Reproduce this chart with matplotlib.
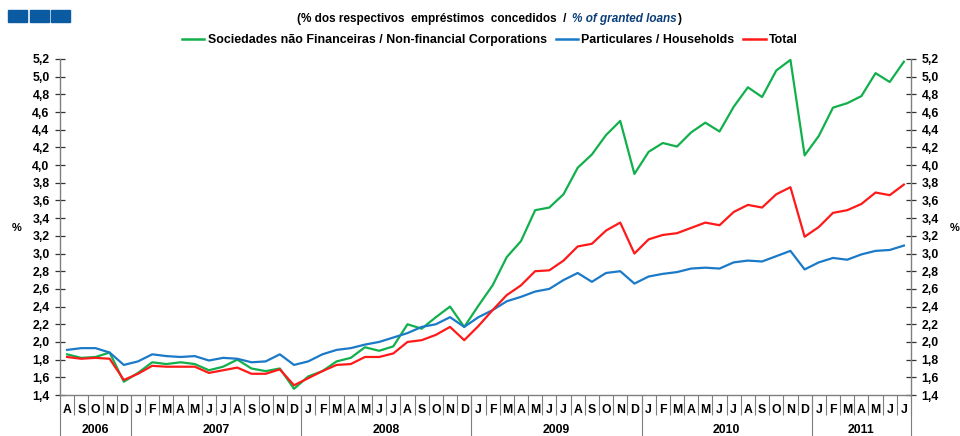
import matplotlib
matplotlib.use("Agg")
import matplotlib.pyplot as plt
import matplotlib.transforms as mtransforms
from matplotlib.patches import Rectangle
from matplotlib.lines import Line2D
from matplotlib import font_manager
import numpy as np

# ---------------- data ----------------
month_labels = (["A", "S", "O", "N", "D"] +
                ["J", "F", "M", "A", "M", "J", "J", "A", "S", "O", "N", "D"] * 4 +
                ["J", "F", "M", "A", "M", "J", "J"])
years = ["2006", "2007", "2008", "2009", "2010", "2011"]
year_counts = [5, 12, 12, 12, 12, 7]

nfc = [1.86, 1.82, 1.83, 1.88, 1.55,
       1.65, 1.77, 1.75, 1.77, 1.75, 1.68, 1.72, 1.80, 1.70, 1.67, 1.70, 1.47,
       1.61, 1.67, 1.78, 1.82, 1.94, 1.90, 1.95, 2.20, 2.15, 2.28, 2.40, 2.17,
       2.41, 2.64, 2.96, 3.14, 3.49, 3.52, 3.67, 3.97, 4.12, 4.34, 4.50, 3.90,
       4.15, 4.25, 4.21, 4.37, 4.48, 4.38, 4.66, 4.88, 4.77, 5.07, 5.19, 4.11,
       4.33, 4.65, 4.70, 4.78, 5.04, 4.94, 5.17]
households = [1.91, 1.93, 1.93, 1.88, 1.74,
              1.78, 1.86, 1.84, 1.83, 1.84, 1.79, 1.82, 1.81, 1.77, 1.78, 1.86, 1.74,
              1.78, 1.86, 1.91, 1.93, 1.97, 2.00, 2.05, 2.10, 2.17, 2.20, 2.28, 2.17,
              2.28, 2.36, 2.46, 2.51, 2.57, 2.60, 2.70, 2.78, 2.68, 2.78, 2.80, 2.66,
              2.74, 2.77, 2.79, 2.83, 2.84, 2.83, 2.90, 2.92, 2.91, 2.97, 3.03, 2.82,
              2.90, 2.95, 2.93, 2.99, 3.03, 3.04, 3.09]
total = [1.83, 1.81, 1.82, 1.81, 1.57,
         1.64, 1.73, 1.72, 1.72, 1.72, 1.65, 1.68, 1.71, 1.64, 1.64, 1.69, 1.51,
         1.59, 1.67, 1.74, 1.75, 1.83, 1.83, 1.87, 2.00, 2.02, 2.08, 2.17, 2.02,
         2.18, 2.36, 2.53, 2.64, 2.80, 2.81, 2.92, 3.08, 3.11, 3.26, 3.35, 3.00,
         3.16, 3.21, 3.23, 3.29, 3.35, 3.32, 3.47, 3.55, 3.52, 3.67, 3.75, 3.19,
         3.30, 3.46, 3.49, 3.56, 3.69, 3.66, 3.78]

series_names = ["Sociedades não Financeiras / Non-financial Corporations",
                "Particulares / Households", "Total"]
y_ticks = [1.4, 1.6, 1.8, 2.0, 2.2, 2.4, 2.6, 2.8, 3.0, 3.2, 3.4, 3.6, 3.8,
           4.0, 4.2, 4.4, 4.6, 4.8, 5.0, 5.2]
subtitle_pt = "(% dos respectivos  empréstimos  concedidos  / "
subtitle_en = "% of granted loans"

# ---------------- style ----------------
names = {f.name for f in font_manager.fontManager.ttflist}
narrow = "Liberation Sans Narrow" if "Liberation Sans Narrow" in names else "Liberation Sans"
plt.rcParams["font.family"] = [narrow, "DejaVu Sans"]

GREEN = "#12b04c"
BLUE = "#1a7ac8"
RED = "#ff1a1a"
AXIS = "#7f7f7f"

W, H = 960, 436
fig = plt.figure(figsize=(W / 100, H / 100), dpi=100)
L, R, T, B = 60, 911, 59, 395
ax = fig.add_axes([L / W, 1 - B / H, (R - L) / W, (B - T) / H])

x = np.arange(len(month_labels))
ax.plot(x, nfc, color=GREEN, lw=1.6, label=series_names[0], clip_on=False)
ax.plot(x, households, color=BLUE, lw=1.6, label=series_names[1], clip_on=False)
ax.plot(x, total, color=RED, lw=1.6, label=series_names[2], clip_on=False)

ax.set_xlim(-0.5, len(month_labels) - 0.5)
ax.set_ylim(1.4, 5.2)
ax.set_yticks(y_ticks)
ax.set_yticklabels([f"{v:.1f}".replace(".", ",") for v in y_ticks],
                   fontsize=8.8, fontweight="bold", family="Liberation Sans")
ax.tick_params(axis="y", which="major", direction="inout", length=7, width=0.9,
               color="#333333", left=True, right=True, labelleft=True, labelright=True, pad=4)
ax.spines["top"].set_visible(False)
for s in ("left", "right", "bottom"):
    ax.spines[s].set_color(AXIS)
    ax.spines[s].set_linewidth(1.0)

# x axis: month separators and labels
ax.set_xticks(np.arange(-0.5, len(month_labels), 1))
ax.set_xticklabels([])
ax.tick_params(axis="x", which="major", direction="out", length=14.5, width=0.8, color=AXIS)
trans = mtransforms.blended_transform_factory(ax.transData, ax.transAxes)
for i, m in enumerate(month_labels):
    ax.text(i, -0.046, m, transform=trans, ha="center", va="center",
            fontsize=8.8, fontweight="bold", family="Liberation Sans")

# year separators and labels
bounds = np.concatenate([[0], np.cumsum(year_counts)]) - 0.5
for b in bounds:
    ax.plot([b, b], [0, -0.125], transform=trans, color=AXIS, lw=0.8, clip_on=False)
for yname, a, b in zip(years, bounds[:-1], bounds[1:]):
    ax.text((a + b) / 2, -0.104, yname, transform=trans, ha="center", va="center",
            fontsize=8.8, fontweight="bold", family="Liberation Sans")

# % labels
fig.text(17 / W, 1 - 228 / H, "%", ha="center", va="center", fontsize=8,
         fontweight="bold", family="Liberation Sans")
fig.text(955 / W, 1 - 228 / H, "%", ha="center", va="center", fontsize=8,
         fontweight="bold", family="Liberation Sans")

# blue squares at top-left
for x0 in (8, 29.5, 51):
    fig.patches.append(Rectangle((x0 / W, 1 - 22 / H), 19 / W, 12 / H,
                                 transform=fig.transFigure, color="#0b5ba3"))

# subtitle
t1 = fig.text(297 / W, 1 - 19 / H, subtitle_pt, ha="left", va="center",
              fontsize=8.5, fontweight="bold", color="black")
t2 = fig.text(0, 0, subtitle_en, fontsize=8.5, fontweight="bold", style="italic",
              color="#0b3f7a")
t3 = fig.text(0, 0, ")", fontsize=8.5, fontweight="bold", color="black")
fig.canvas.draw()
r = fig.canvas.get_renderer()
bb1 = t1.get_window_extent(r)
t2.set_position(((bb1.x1 + 2) / W, 1 - 19 / H))
t2.set_va("center")
fig.canvas.draw()
bb2 = t2.get_window_extent(r)
t3.set_position(((bb2.x1 + 2) / W, 1 - 19 / H))
t3.set_va("center")

# legend
handles = [Line2D([], [], color=c, lw=1.8) for c in (GREEN, BLUE, RED)]
fig.legend(handles, series_names, loc="center", bbox_to_anchor=(490 / W, 1 - 40 / H),
           ncol=3, frameon=False, handlelength=1.8, handletextpad=0.3,
           columnspacing=0.7, prop={"weight": "bold", "size": 8.9})

fig.savefig("out.png", dpi=100)
